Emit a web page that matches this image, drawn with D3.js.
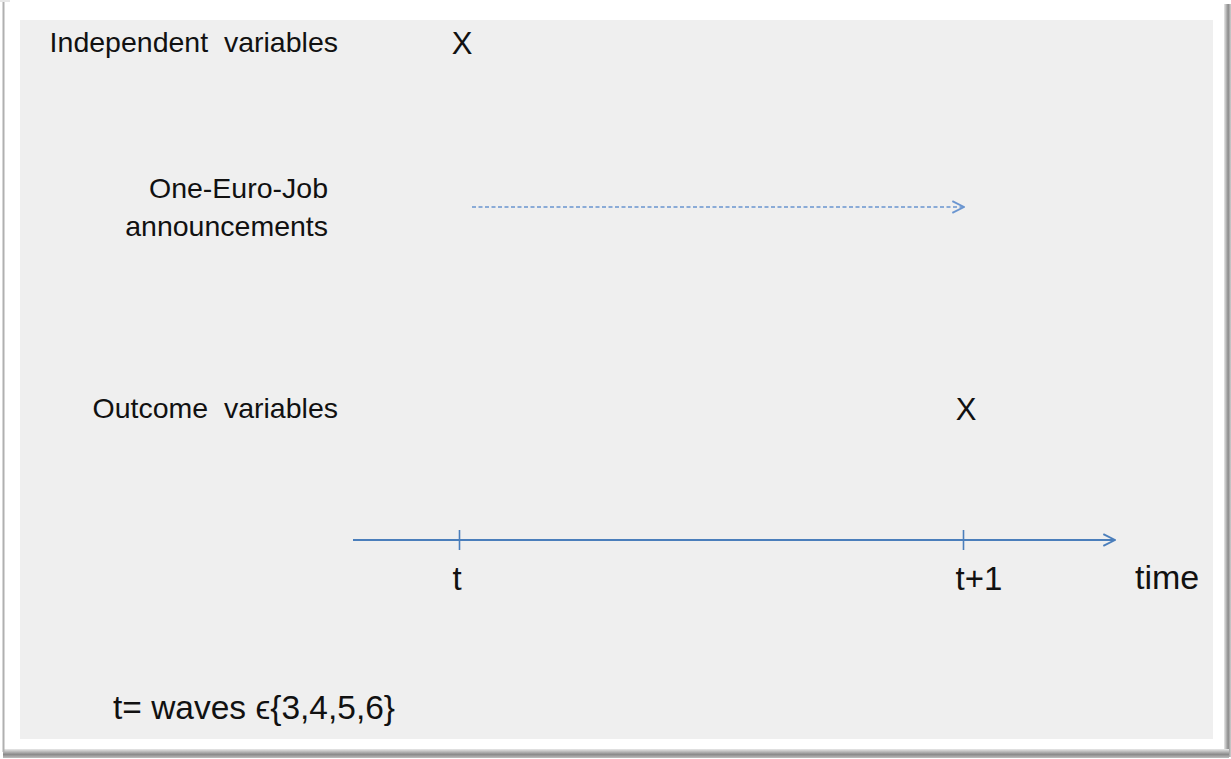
<!DOCTYPE html>
<html>
<head>
<meta charset="utf-8">
<script src="https://cdn.jsdelivr.net/npm/d3@7"></script>
<style>
  html, body { margin: 0; padding: 0; background: #fff; }
  svg { display: block; font-family: "Liberation Sans", Arial, sans-serif; }
</style>
</head>
<body>
<div id="chart"></div>
<script>
// data
const timePoints = ['t', 't+1'];
const timeLabel = 'time';
const rowNames = ['Independent variables', 'One-Euro-Job announcements', 'Outcome variables'];
const rowLabelLines = [['Independent  variables'], ['One-Euro-Job', 'announcements'], ['Outcome  variables']];
const marks = [
  { row: 'Independent variables', time: 't', symbol: 'X' },
  { row: 'Outcome variables', time: 't+1', symbol: 'X' }
];
const arrowRow = 'One-Euro-Job announcements';
const arrowFrom = 't', arrowTo = 't+1';
const footnote = 't= waves \u03F5{3,4,5,6}';

const W = 1231, H = 759;
const blue = '#4a7ebb';

const svg = d3.select('#chart').append('svg').attr('width', W).attr('height', H);

// frame / shadow
const defs = svg.append('defs');
const gb = defs.append('linearGradient').attr('id', 'sb').attr('x1', 0).attr('y1', 0).attr('x2', 0).attr('y2', 1);
gb.append('stop').attr('offset', '0%').attr('stop-color', '#e8e8e8');
gb.append('stop').attr('offset', '60%').attr('stop-color', '#8a8a8a');
gb.append('stop').attr('offset', '100%').attr('stop-color', '#bdbdbd');
const gr = defs.append('linearGradient').attr('id', 'sr').attr('x1', 0).attr('y1', 0).attr('x2', 1).attr('y2', 0);
gr.append('stop').attr('offset', '0%').attr('stop-color', '#e8e8e8');
gr.append('stop').attr('offset', '60%').attr('stop-color', '#8a8a8a');
gr.append('stop').attr('offset', '100%').attr('stop-color', '#d0d0d0');

svg.append('rect').attr('x', 1224).attr('y', 4).attr('width', 7).attr('height', 753).attr('fill', 'url(#sr)');
svg.append('rect').attr('x', 3).attr('y', 749).attr('width', 1226).attr('height', 9).attr('fill', 'url(#sb)');
svg.append('line').attr('x1', 3.5).attr('x2', 3.5).attr('y1', 2).attr('y2', 752)
  .attr('stroke', '#b0b0b0').attr('stroke-width', 2);
svg.append('line').attr('x1', 0).attr('x2', 10).attr('y1', 1).attr('y2', 1)
  .attr('stroke', '#d0d0d0').attr('stroke-width', 1);

// plot panel
svg.append('rect').attr('x', 20).attr('y', 20).attr('width', 1193).attr('height', 719).attr('fill', '#efefef');

// scales
const x = d3.scalePoint().domain(timePoints).range([459, 963]);
const y = d3.scaleOrdinal().domain(rowNames).range([42, 207, 408]);
const axisY = 540;

// time axis
const axisG = svg.append('g').attr('transform', `translate(0,${axisY})`);
axisG.call(d3.axisBottom(x).tickSizeInner(10).tickSizeOuter(0).tickFormat(''))
  .call(g => g.select('.domain').remove())
  .call(g => g.selectAll('.tick line').attr('stroke', blue).attr('stroke-width', 1.6).attr('y1', -10).attr('y2', 10));

defs.append('marker').attr('id', 'head').attr('viewBox', '0 0 12 12')
  .attr('refX', 11).attr('refY', 6).attr('markerWidth', 14).attr('markerHeight', 14)
  .attr('markerUnits', 'userSpaceOnUse').attr('orient', 'auto')
  .append('path').attr('d', 'M1,1 L11,6 L1,11').attr('fill', 'none').attr('stroke', blue).attr('stroke-width', 1.6);

axisG.append('line').attr('x1', 353).attr('x2', 1115).attr('y1', 0).attr('y2', 0)
  .attr('stroke', blue).attr('stroke-width', 2).attr('marker-end', 'url(#head)');

svg.selectAll('.tlbl').data(timePoints).join('text')
  .attr('class', 'tlbl')
  .attr('x', d => x(d) + (d === 't' ? -2 : 16))
  .attr('y', 590)
  .attr('text-anchor', 'middle')
  .attr('font-size', 33).attr('fill', '#111')
  .text(d => d);

svg.append('text').attr('x', 1135).attr('y', 589)
  .attr('font-size', 34).attr('fill', '#111').text(timeLabel);

// row labels
svg.selectAll('.rlbl').data(rowNames).join('text')
  .attr('class', 'rlbl')
  .attr('text-anchor', 'end')
  .attr('font-size', 28.5).attr('fill', '#111')
  .attr('y', d => y(d))
  .each(function (d, i) {
    const lines = rowLabelLines[i];
    const el = d3.select(this);
    lines.forEach((ln, j) => {
      el.append('tspan')
        .attr('x', i === 1 ? 328 : 338)
        .attr('dy', j === 0 ? (lines.length > 1 ? -9 : 10) : 38)
        .attr('xml:space', 'preserve')
        .text(ln);
    });
  });

// marks
svg.selectAll('.mark').data(marks).join('text')
  .attr('class', 'mark')
  .attr('x', d => x(d.time) + 3)
  .attr('y', d => y(d.row) + 12)
  .attr('text-anchor', 'middle')
  .attr('font-size', 31).attr('fill', '#111')
  .text(d => d.symbol);

// dashed arrow
defs.append('marker').attr('id', 'head2').attr('viewBox', '0 0 12 12')
  .attr('refX', 11).attr('refY', 6).attr('markerWidth', 14).attr('markerHeight', 14)
  .attr('markerUnits', 'userSpaceOnUse').attr('orient', 'auto')
  .append('path').attr('d', 'M1,1 L11,6 L1,11').attr('fill', 'none').attr('stroke', '#6a95d0').attr('stroke-width', 1.6);

svg.append('line')
  .attr('x1', x(arrowFrom) + 13).attr('x2', x(arrowTo) + 1)
  .attr('y1', y(arrowRow)).attr('y2', y(arrowRow))
  .attr('stroke', '#6a95d0').attr('stroke-width', 1.5)
  .attr('stroke-dasharray', '4,2.5')
  .attr('marker-end', 'url(#head2)');

// footnote
svg.append('text').attr('x', 113).attr('y', 719)
  .attr('font-size', 33).attr('fill', '#111')
  .attr('textLength', 282).attr('lengthAdjust', 'spacingAndGlyphs')
  .text(footnote);
</script>
</body>
</html>
